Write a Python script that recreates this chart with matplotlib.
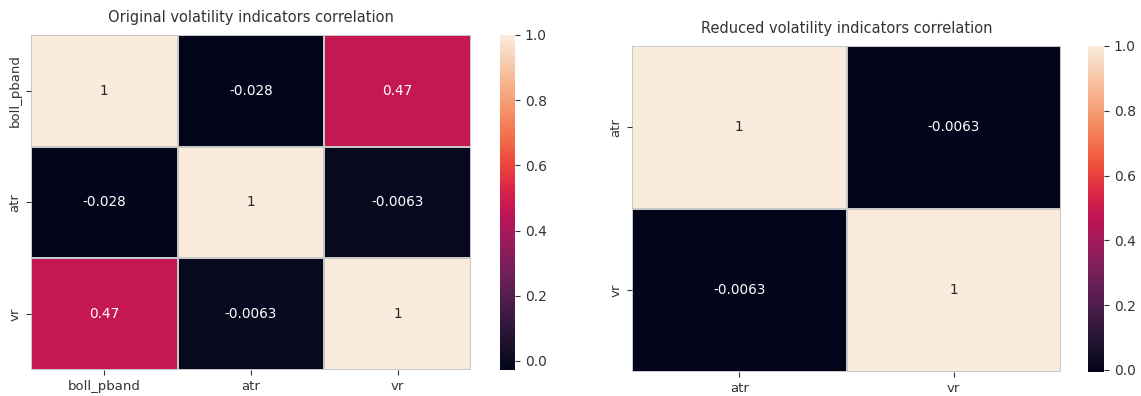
import numpy as np
import matplotlib
matplotlib.use("Agg")
import matplotlib.pyplot as plt
import seaborn as sns

# Data
orig_labels = ["boll_pband", "atr", "vr"]
orig_corr = [
    [1.0, -0.028, 0.47],
    [-0.028, 1.0, -0.0063],
    [0.47, -0.0063, 1.0],
]
red_labels = ["atr", "vr"]
red_corr = [
    [1.0, -0.0063],
    [-0.0063, 1.0],
]
titles = ["Original volatility indicators correlation",
          "Reduced volatility indicators correlation"]

plt.rcParams['font.family'] = ['DejaVu Sans']
FS = 9.5
TXT = '#333333'
plt.rcParams['text.color'] = TXT
plt.rcParams['xtick.color'] = TXT
plt.rcParams['ytick.color'] = TXT
plt.rcParams['xtick.labelcolor'] = TXT
plt.rcParams['ytick.labelcolor'] = TXT

fig = plt.figure(figsize=(11.41, 3.96), dpi=100)

ax1 = fig.add_axes([0.02717, 0.06566, 0.38563, 0.84596])
cax1 = fig.add_axes([0.43821, 0.06566, 0.01315, 0.84596])
ax2 = fig.add_axes([0.55390, 0.06061, 0.37599, 0.82323])
cax2 = fig.add_axes([0.95355, 0.06061, 0.01402, 0.82323])

for ax, cax, data, labels, title in [
    (ax1, cax1, orig_corr, orig_labels, titles[0]),
    (ax2, cax2, red_corr, red_labels, titles[1]),
]:
    sns.heatmap(np.array(data), annot=True, ax=ax, cbar_ax=cax,
                xticklabels=labels, yticklabels=labels,
                linewidths=0.3, linecolor='#c8c8c8',
                annot_kws={'fontsize': FS + 0.3})
    ax.set_title(title, fontsize=FS + 1.0, pad=9)
    ax.tick_params(axis='both', labelsize=FS, length=3.5, width=0.8)
    cax.tick_params(labelsize=FS + 0.5, length=3.5, width=0.8)
    cax.set_yticks([0.0, 0.2, 0.4, 0.6, 0.8, 1.0])

fig.savefig("out.png", dpi=100)
